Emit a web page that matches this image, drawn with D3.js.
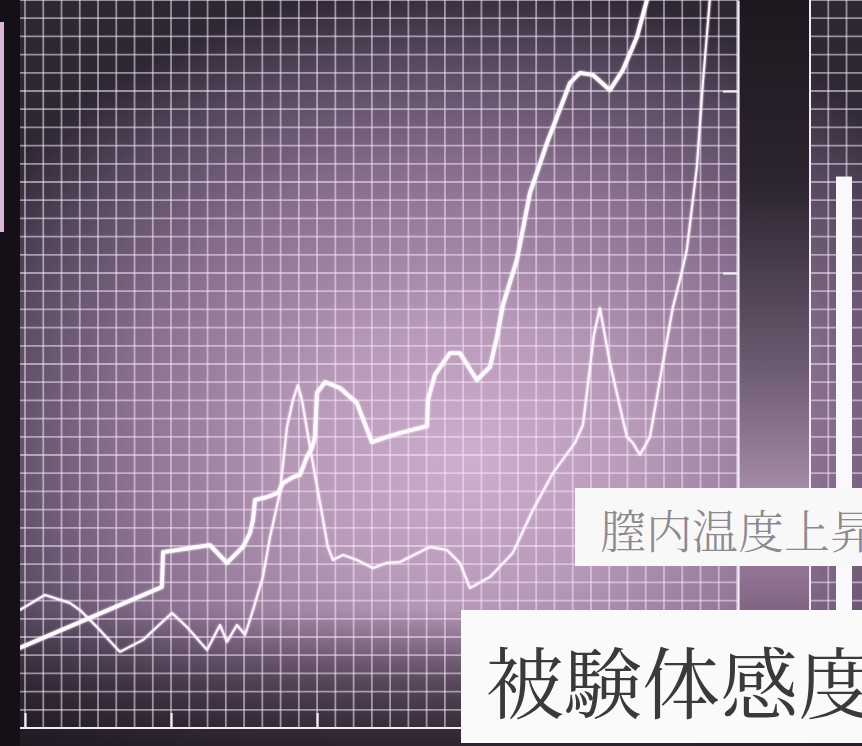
<!DOCTYPE html>
<html>
<head>
<meta charset="utf-8">
<script src="https://cdn.jsdelivr.net/npm/d3@7"></script>
<style>
  html, body { margin: 0; padding: 0; background: #17121a; }
  svg { display: block; }
</style>
</head>
<body>
<div id="chart"></div>
<script>
// --- data (grid units: x = time step, y = level) ---
const thickX = [-0.3, 7.5, 7.56, 10.13, 11.06, 11.94, 12.32, 12.49, 12.6, 13.25, 13.86, 14.13, 14.68, 15.06, 15.44, 15.72, 15.88, 15.99, 16.43, 17.25, 18.18, 19.0, 19.82, 20.54, 22.02, 22.07, 22.45, 23.27, 23.82, 24.75, 25.47, 25.85, 26.18, 26.94, 27.66, 28.59, 29.85, 30.39, 31.11, 32.04, 32.75, 33.52, 34.2];
const thickY = [4.4, 7.75, 9.67, 10.05, 9.07, 9.95, 10.71, 11.43, 12.53, 12.69, 12.91, 13.46, 13.79, 13.9, 14.89, 15.38, 15.99, 18.41, 19.01, 18.68, 17.86, 15.71, 15.99, 16.21, 16.59, 18.02, 19.4, 20.6, 20.6, 19.12, 19.84, 21.48, 23.24, 25.71, 29.4, 32.14, 35.44, 35.99, 35.88, 35.05, 36.15, 37.97, 40.5];

const thinX = [-0.3, 1.1, 2.46, 3.01, 3.94, 5.2, 6.46, 8.05, 8.87, 9.97, 10.68, 11.06, 11.61, 12.05, 12.49, 13.03, 13.42, 13.96, 14.35, 14.68, 14.95, 15.17, 15.61, 16.16, 16.59, 16.87, 17.42, 18.18, 19.06, 19.82, 20.54, 22.18, 23.11, 23.82, 24.37, 25.47, 26.72, 27.82, 28.92, 30.12, 30.56, 30.83, 31.16, 31.49, 32.04, 32.97, 33.3, 33.68, 34.23, 34.94, 35.49, 35.87, 36.25, 36.8, 37.13, 37.55];
const thinY = [6.48, 7.31, 6.87, 6.48, 5.55, 4.18, 4.84, 6.32, 5.55, 4.29, 5.66, 4.73, 5.66, 5.11, 6.48, 8.3, 10.49, 12.91, 16.54, 18.02, 18.85, 18.02, 15.44, 12.36, 9.95, 9.23, 9.51, 9.23, 8.79, 9.07, 9.12, 9.95, 9.78, 9.07, 7.69, 8.3, 9.62, 11.98, 14.01, 15.66, 16.65, 18.85, 21.59, 23.08, 20.05, 15.99, 15.66, 15.0, 15.99, 20.05, 23.13, 24.62, 26.26, 30.82, 35.44, 40.5];

const gaugeValue = [30.3];
const bottomTicks = [0, 8, 16, 24, 32];
const rightTicks = [25, 35];
const labelSmall = '膣内温度上昇';
const labelLarge = '被験体感度';

// --- layout ---
const W = 862, H = 746;
const x = d3.scaleLinear().domain([0, 39]).range([25, 737]);
const y = d3.scaleLinear().domain([0, 40]).range([728, 0]);

const svg = d3.select('#chart').append('svg')
  .attr('width', W).attr('height', H)
  .attr('viewBox', `0 0 ${W} ${H}`);

const defs = svg.append('defs');

// elliptical glow, brightest a bit below the middle
const bg = defs.append('radialGradient').attr('id', 'bg')
  .attr('gradientUnits', 'userSpaceOnUse')
  .attr('cx', 0).attr('cy', 0).attr('r', 1)
  .attr('gradientTransform', 'translate(470,460) scale(580,480)');
[[0, '#cfaecf'], [0.3, '#b698b7'], [0.6, '#8a7090'], [0.85, '#54465c'], [1, '#2e2734']]
  .forEach(([o, c]) => bg.append('stop').attr('offset', o).attr('stop-color', c));

const bottomShade = defs.append('linearGradient').attr('id', 'bottomShade')
  .attr('x1', 0).attr('x2', 0).attr('y1', 0).attr('y2', 1);
[[0, 0], [0.55, 0.55], [1, 0.85]]
  .forEach(([o, a]) => bottomShade.append('stop').attr('offset', o).attr('stop-color', '#1c161e').attr('stop-opacity', a));

const band = defs.append('linearGradient').attr('id', 'band')
  .attr('x1', 0).attr('x2', 0).attr('y1', 0).attr('y2', 1);
[[0, '#1d181f'], [0.25, '#2c2430'], [0.5, '#6b5a70'], [0.68, '#a88eaa'], [0.8, '#8c6f8e'], [1, '#4a3a4c']]
  .forEach(([o, c]) => band.append('stop').attr('offset', o).attr('stop-color', c));

const glow = defs.append('filter').attr('id', 'glow')
  .attr('x', '-5%').attr('y', '-5%').attr('width', '110%').attr('height', '110%');
glow.append('feGaussianBlur').attr('stdDeviation', 1.2).attr('result', 'b');
const merge = glow.append('feMerge');
merge.append('feMergeNode').attr('in', 'b');
merge.append('feMergeNode').attr('in', 'SourceGraphic');

defs.append('clipPath').attr('id', 'plotClip')
  .append('rect').attr('x', 20).attr('y', 0).attr('width', 718).attr('height', 730);

// background
svg.append('rect').attr('width', W).attr('height', H).attr('fill', 'url(#bg)');
svg.append('rect').attr('x', 0).attr('y', 610).attr('width', W).attr('height', 136).attr('fill', 'url(#bottomShade)');

// left edge strip
svg.append('rect').attr('x', 0).attr('y', 0).attr('width', 20).attr('height', H).attr('fill', '#151017');
svg.append('rect').attr('x', 0).attr('y', 22).attr('width', 4).attr('height', 210).attr('fill', '#d9b8da');

// grid
const grid = svg.append('g').attr('class', 'grid')
  .attr('stroke', '#f6e6f8').attr('stroke-opacity', 0.55).attr('stroke-width', 1.8);
const gridCols = d3.range(0, 47.5, 1).filter(v => x(v) < 740 || x(v) > 812);
grid.selectAll('line.v').data(gridCols).enter().append('line')
  .attr('x1', d => x(d)).attr('x2', d => x(d)).attr('y1', 0).attr('y2', 728);
grid.selectAll('line.h').data(d3.range(0, 41)).enter().append('line')
  .attr('x1', 20).attr('x2', 738).attr('y1', d => y(d)).attr('y2', d => y(d));
grid.selectAll('line.h2').data(d3.range(0, 41)).enter().append('line')
  .attr('x1', 810).attr('x2', W).attr('y1', d => y(d)).attr('y2', d => y(d));

// dark vertical band
svg.append('rect').attr('x', 739).attr('y', 0).attr('width', 70).attr('height', 730).attr('fill', 'url(#band)');
svg.append('line').attr('x1', 810).attr('x2', 810).attr('y1', 0).attr('y2', 730)
  .attr('stroke', '#f6eaf6').attr('stroke-width', 2);

// axes
const bottomAxis = svg.append('g').attr('transform', `translate(0,${y(0)})`)
  .call(d3.axisTop(x).tickValues(bottomTicks).tickSize(15).tickSizeOuter(0).tickFormat(''));
bottomAxis.select('.domain').attr('d', `M20,0H738`);
bottomAxis.selectAll('line, path').attr('stroke', '#f4ecf6').attr('stroke-width', 2.2);

const rightAxis = svg.append('g').attr('transform', `translate(738,0)`)
  .call(d3.axisLeft(y).tickValues(rightTicks).tickSize(15).tickSizeOuter(0).tickFormat(''));
rightAxis.selectAll('line, path').attr('stroke', '#f4ecf6').attr('stroke-width', 2.2);

// gauge bar
svg.selectAll('rect.gauge').data(gaugeValue).enter().append('rect')
  .attr('class', 'gauge')
  .attr('x', 836).attr('width', 16)
  .attr('y', d => y(d)).attr('height', d => y(0) - y(d))
  .attr('fill', '#fbf8fb');

// lines
const line = d3.line().x(d => x(d[0])).y(d => y(d[1])).curve(d3.curveLinear);
const plot = svg.append('g').attr('clip-path', 'url(#plotClip)');

plot.append('path')
  .datum(d3.zip(thinX, thinY))
  .attr('d', line)
  .attr('fill', 'none').attr('stroke', '#fff4ff').attr('stroke-width', 2)
  .attr('stroke-linejoin', 'round').attr('filter', 'url(#glow)');

plot.append('path')
  .datum(d3.zip(thickX, thickY))
  .attr('d', line)
  .attr('fill', 'none').attr('stroke', '#fffaff').attr('stroke-width', 3.8)
  .attr('stroke-linejoin', 'round').attr('stroke-linecap', 'round').attr('filter', 'url(#glow)');

// labels (the reference crops both captions at the right edge)
const fontStack = '"Noto Serif CJK JP", "Noto Sans CJK JP", serif';
svg.append('rect').attr('x', 575).attr('y', 488).attr('width', 300).attr('height', 78).attr('fill', '#f9f8f9');
svg.append('text').attr('x', 600).attr('y', 528)
  .attr('dominant-baseline', 'central')
  .attr('font-family', fontStack).attr('font-size', 46).attr('font-weight', 300)
  .attr('fill', '#8d898d')
  .text(labelSmall);

svg.append('rect').attr('x', 461).attr('y', 610).attr('width', 410).attr('height', 133).attr('fill', '#fafafa');
svg.append('text').attr('x', 486).attr('y', 679)
  .attr('dominant-baseline', 'central')
  .attr('font-family', fontStack).attr('font-size', 78).attr('font-weight', 400)
  .attr('fill', '#3b393c')
  .text(labelLarge);
</script>
</body>
</html>
